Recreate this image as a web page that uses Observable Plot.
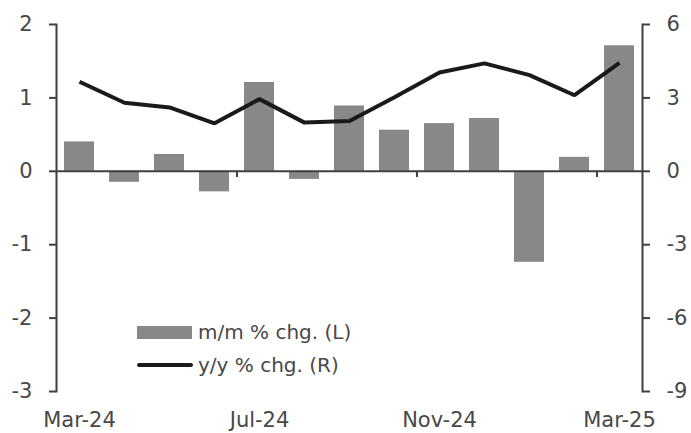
<!DOCTYPE html>
<html>
<head>
<meta charset="utf-8">
<script src="https://cdn.jsdelivr.net/npm/d3@7"></script>
<script src="https://cdn.jsdelivr.net/npm/@observablehq/plot@0.6"></script>
<style>
  html, body { margin: 0; padding: 0; background: #fff; }
  #wrap { position: relative; width: 691px; height: 433px; font-family: "DejaVu Sans", sans-serif; color: #484848; }
  .leg { position: absolute; display: flex; align-items: center; font-size: 20px; color: #484848; white-space: nowrap; }
  .sw-bar { width: 55px; height: 13px; background: #87888a; margin-right: 6px; }
  .sw-line { width: 56px; height: 4px; background: #1a1a1a; border-radius: 2px; margin-right: 5px; }
</style>
</head>
<body>
<div id="wrap"></div>
<script>
const months = ["Mar-24","Apr-24","May-24","Jun-24","Jul-24","Aug-24","Sep-24","Oct-24","Nov-24","Dec-24","Jan-25","Feb-25","Mar-25"];
const momValues = [0.40, -0.15, 0.23, -0.28, 1.21, -0.11, 0.89, 0.56, 0.65, 0.72, -1.24, 0.19, 1.71];
const yoyValues = [3.66, 2.80, 2.61, 1.96, 2.95, 1.99, 2.06, 3.03, 4.04, 4.41, 3.93, 3.11, 4.43];
const xTickLabels = ["Mar-24","Jul-24","Nov-24","Mar-25"];
const leftTicks = [-3, -2, -1, 0, 1, 2];
const rightFactor = 3; // right axis = left axis * 3
const seriesLabels = ["m/m % chg. (L)", "y/y % chg. (R)"];

const data = months.map((m, i) => ({month: m, mom: momValues[i], yoy: yoyValues[i] / rightFactor}));

const axisColor = "#404040";
const textColor = "#484848";
const chart = Plot.plot({
  width: 691,
  height: 433,
  marginLeft: 56,
  marginRight: 49,
  marginTop: 24,
  marginBottom: 42,
  style: {fontFamily: "DejaVu Sans, sans-serif", fontSize: "21px", color: textColor, background: "white"},
  x: {domain: months, paddingInner: 0.34, paddingOuter: 0.17},
  y: {domain: [-3, 2]},
  marks: [
    Plot.barY(data, {x: "month", y: "mom", fill: "#87888a"}),
    Plot.ruleY([0], {stroke: axisColor, strokeWidth: 2}),
    Plot.ruleX(xTickLabels.slice(1), {x: d => d, y1: 0, y2: -0.085, dx: -22.54, stroke: axisColor, strokeWidth: 2}),
    Plot.line(data, {x: "month", y: "yoy", stroke: "#1a1a1a", strokeWidth: 4, strokeLinejoin: "miter", strokeLinecap: "butt"}),
    Plot.frame({anchor: "left", stroke: axisColor, strokeWidth: 2}),
    Plot.frame({anchor: "right", stroke: axisColor, strokeWidth: 2}),
    Plot.axisY(leftTicks, {anchor: "left", tickSize: 7, tickPadding: 17, tickFormat: d => String(d), stroke: axisColor, strokeWidth: 2, fill: textColor, fontSize: 21, label: null}),
    Plot.axisY(leftTicks, {anchor: "right", tickSize: 7, tickPadding: 17, tickFormat: d => String(d * rightFactor), stroke: axisColor, strokeWidth: 2, fill: textColor, fontSize: 21, label: null}),
    Plot.axisX(xTickLabels, {tickSize: 0, tickPadding: 21, fill: textColor, fontSize: 21, label: null})
  ]
});
const wrap = document.getElementById("wrap");
wrap.appendChild(chart);

const leg1 = document.createElement("div");
leg1.className = "leg";
leg1.style.left = "137px"; leg1.style.top = "320px";
leg1.innerHTML = `<div class="sw-bar"></div><span>${seriesLabels[0]}</span>`;
wrap.appendChild(leg1);
const leg2 = document.createElement("div");
leg2.className = "leg";
leg2.style.left = "137px"; leg2.style.top = "353px";
leg2.innerHTML = `<div class="sw-line"></div><span>${seriesLabels[1]}</span>`;
wrap.appendChild(leg2);
</script>
</body>
</html>
